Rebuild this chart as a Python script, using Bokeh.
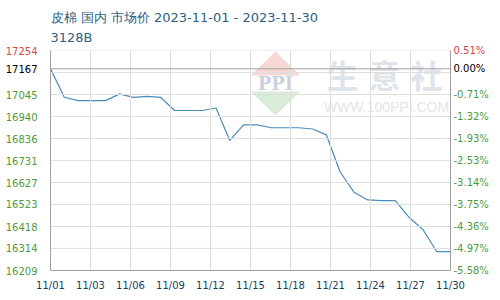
from bokeh.plotting import figure
from bokeh.models import Range1d, LinearAxis, FixedTicker, Span, Title
from bokeh.core.properties import value
from bokeh.embed import file_html
from bokeh.resources import INLINE

# ---- data ----
days = list(range(30))  # 2023-11-01 .. 2023-11-30
prices = [17167, 17032, 17016, 17016, 17016, 17048, 17031, 17036, 17031, 16969,
          16969, 16969, 16981, 16827, 16901, 16901, 16887, 16887, 16887, 16881,
          16853, 16677, 16581, 16544, 16541, 16541, 16461, 16404, 16299, 16299]

left_tick_values = [17254, 17167, 17045, 16940, 16836, 16731, 16627, 16523, 16418, 16314, 16209]
left_tick_labels = ["17254", "17167", "17045", "16940", "16836", "16731", "16627",
                    "16523", "16418", "16314", "16209"]
right_tick_labels = ["0.51%", "0.00%", "-0.71%", "-1.32%", "-1.93%", "-2.53%", "-3.14%",
                     "-3.75%", "-4.36%", "-4.97%", "-5.58%"]
grid_values = [17254, 17149.5, 17045, 16940, 16836, 16731, 16627, 16523, 16418, 16314]
x_tick_labels = ["11/01", "11/03", "11/06", "11/09", "11/12", "11/15", "11/18",
                 "11/21", "11/24", "11/27", "11/30"]

title_text = "皮棉 国内 市场价 2023-11-01 - 2023-11-30"
subtitle_text = "3128B"

# ---- styles ----
GREEN = "#4f9a3c"
RED = "#d04848"
NAVY = "#1d3d5c"
TITLE_C = "#2f5f80"
LINE_C = "#4a8dba"
AXIS_C = "#a0a0a0"
GRID_C = "#dedede"
TICK_FONT = "DejaVu Sans"
TICK_SIZE = "10px"
TITLE_FONT = "DejaVu Sans"

x0, x1 = days[0], days[-1]
y0, y1 = left_tick_values[-1], left_tick_values[0]
n_x = len(x_tick_labels) - 1
x_positions = [round(x0 + i * (x1 - x0) / n_x, 4) for i in range(n_x + 1)]

p = figure(width=500, height=300, output_backend="svg", toolbar_location=None,
           x_range=Range1d(x0, x1), y_range=Range1d(y0, y1),
           min_border_left=50, min_border_right=50, min_border_top=50, min_border_bottom=30)
p.outline_line_color = None
p.background_fill_color = None
p.border_fill_color = "white"
p.grid.visible = False

# light grid
for gx in x_positions[1:-1]:
    p.add_layout(Span(location=gx, dimension="height", line_color=GRID_C,
                      line_width=1, level="glyph"))
for gy in grid_values:
    p.add_layout(Span(location=gy, dimension="width", line_color=GRID_C,
                      line_width=1, level="glyph"))

# x axis
xa = p.xaxis[0]
xa.ticker = FixedTicker(ticks=x_positions)
xa.major_label_overrides = {v: t for v, t in zip(x_positions, x_tick_labels)}
xa.major_tick_line_color = None
xa.minor_tick_line_color = None
xa.major_tick_out = 0
xa.major_tick_in = 0
xa.minor_tick_out = 0
xa.axis_line_color = AXIS_C
xa.major_label_text_color = NAVY
xa.major_label_text_font = TICK_FONT
xa.major_label_text_font_size = TICK_SIZE
xa.major_label_standoff = 9

# tick-label colour per value: top bound red, base (first price) black, rest green
def label_color(v):
    if v == left_tick_values[0]:
        return RED
    if v == prices[0]:
        return "black"
    return GREEN

def style_axis(ax, labels, color, standoff, line=True):
    ax.ticker = FixedTicker(ticks=left_tick_values)
    ax.major_label_overrides = {v: (t if label_color(v) == color else "")
                                for v, t in zip(left_tick_values, labels)}
    ax.major_tick_line_color = None
    ax.minor_tick_line_color = None
    ax.major_tick_out = 0
    ax.major_tick_in = 0
    ax.minor_tick_out = 0
    ax.axis_line_color = AXIS_C if line else None
    ax.major_label_text_color = color
    ax.major_label_text_font = TICK_FONT
    ax.major_label_text_font_size = TICK_SIZE
    ax.major_label_standoff = standoff

# left: green labels on the main axis, red and black stacked onto the same column
style_axis(p.yaxis[0], left_tick_labels, GREEN, 13)
for c in (RED, "black"):
    ax = LinearAxis()
    style_axis(ax, left_tick_labels, c, -35, line=False)
    p.add_layout(ax, "left")

# right: red on the main right axis, black and green stacked onto the same column
ra = LinearAxis()
style_axis(ra, right_tick_labels, RED, 3)
p.add_layout(ra, "right")
for c in ("black", GREEN):
    ax = LinearAxis()
    style_axis(ax, right_tick_labels, c, -35, line=False)
    p.add_layout(ax, "right")

# watermark (decorative, placed relative to the frame)
FW, FH = 400.0, 220.0
def wx(px):
    return x0 + (px - 50) / FW * (x1 - x0)
def wy(py):
    return y1 - (py - 50) / FH * (y1 - y0)

p.patch([wx(250), wx(275), wx(300)], [wy(75), wy(51), wy(75)],
        fill_color="#f6d9d5", line_color=None)
p.patch([wx(250), wx(275), wx(300)], [wy(91), wy(115), wy(91)],
        fill_color="#d9ecd9", line_color=None)
p.text(x=[wx(275)], y=[wy(83)], text=["PPI"], text_align="center", text_baseline="middle",
       text_color="#c9d1e2", text_font=value("DejaVu Serif"), text_font_size="18px",
       text_font_style="bold")
p.text(x=[wx(342), wx(384), wx(426)], y=[wy(73)] * 3, text=["生", "意", "社"],
       text_align="center", text_baseline="middle", text_color="#dfe3ea",
       text_font=value("Noto Sans CJK SC"), text_font_size="32px", text_font_style="bold")
p.text(x=[wx(386)], y=[wy(106)], text=["WWW.100PPI.COM"], text_align="center",
       text_baseline="middle", text_color="#e4e4e4", text_font=value("Liberation Sans"),
       text_font_size="14px")

# base line at first value
p.add_layout(Span(location=prices[0], dimension="width", line_color=AXIS_C, line_width=1))

# series
p.line(days, prices, line_color=LINE_C, line_width=1.2)

# title (two lines)
p.add_layout(Title(text=title_text + "\n" + subtitle_text, align="left", text_font=TITLE_FONT,
                   text_font_size="13px", text_font_style="normal", text_color=TITLE_C,
                   text_line_height=1.35, standoff=11), "above")

open("out.html", "w").write(file_html(p, INLINE))
